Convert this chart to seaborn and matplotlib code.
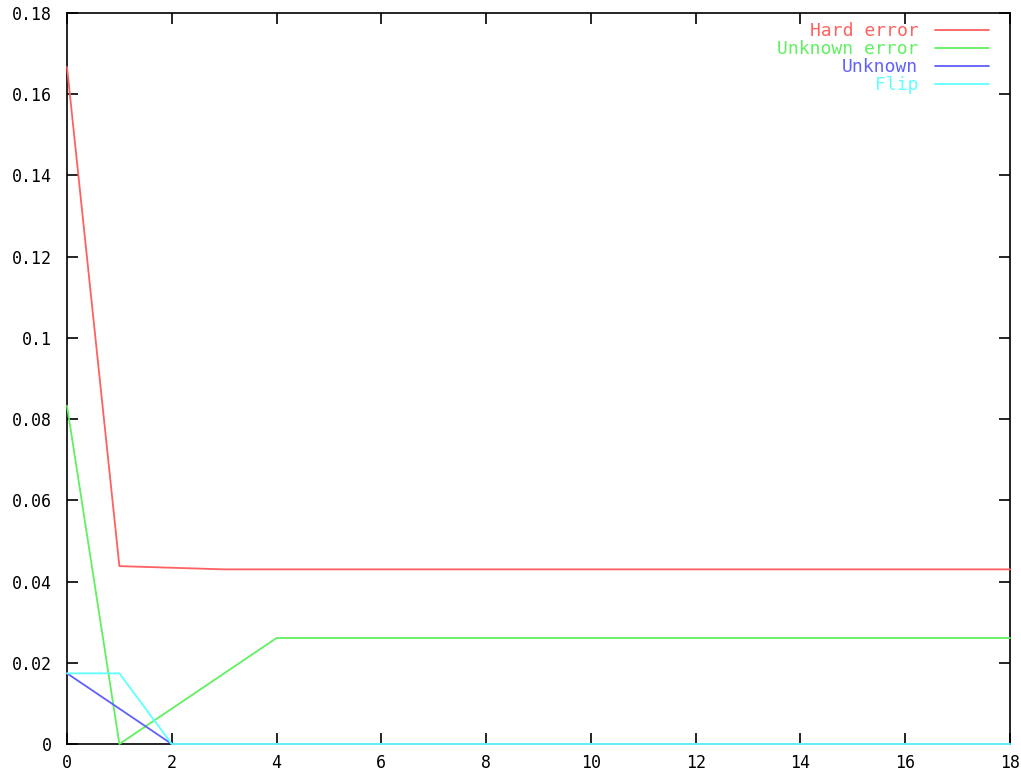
import matplotlib
matplotlib.use('Agg')
import matplotlib.pyplot as plt
import seaborn as sns
import pandas as pd
from matplotlib.ticker import FormatStrFormatter, MultipleLocator

steps = list(range(19))
hard_error = [0.1667, 0.0438, 0.0434, 0.0430, 0.0430, 0.0430, 0.0430, 0.0430, 0.0430, 0.0430,
              0.0430, 0.0430, 0.0430, 0.0430, 0.0430, 0.0430, 0.0430, 0.0430, 0.0430]
unknown_error = [0.0833, 0.0, 0.0087, 0.0174, 0.0261, 0.0261, 0.0261, 0.0261, 0.0261, 0.0261,
                 0.0261, 0.0261, 0.0261, 0.0261, 0.0261, 0.0261, 0.0261, 0.0261, 0.0261]
unknown = [0.0174, 0.0087, 0.0, 0.0, 0.0, 0.0, 0.0, 0.0, 0.0, 0.0,
           0.0, 0.0, 0.0, 0.0, 0.0, 0.0, 0.0, 0.0, 0.0]
flip = [0.0174, 0.0174, 0.0, 0.0, 0.0, 0.0, 0.0, 0.0, 0.0, 0.0,
        0.0, 0.0, 0.0, 0.0, 0.0, 0.0, 0.0, 0.0, 0.0]

series_names = ['Hard error', 'Unknown error', 'Unknown', 'Flip']
colors = ['#ff6060', '#60f060', '#6060ff', '#60ffff']

frames = []
for name, vals in zip(series_names, [hard_error, unknown_error, unknown, flip]):
    frames.append(pd.DataFrame({'step': steps, 'value': vals, 'series': name}))
df = pd.concat(frames, ignore_index=True)

sns.set_style('white')
plt.rcParams['font.family'] = ['DejaVu Sans Mono']

fig = plt.figure(figsize=(10.21, 7.73), dpi=100)
ax = fig.add_axes([67 / 1021, 29 / 773, 943 / 1021, 731 / 773])

sns.lineplot(data=df, x='step', y='value', hue='series', hue_order=series_names,
             palette=colors, linewidth=1.3, ax=ax)

# gnuplot draws the curves on top of the border
for line in ax.get_lines():
    line.set_zorder(5)
    line.set_clip_on(False)

ax.set_xlim(0, 18)
ax.set_ylim(0, 0.18)
ax.xaxis.set_major_locator(MultipleLocator(2))
ax.yaxis.set_major_locator(MultipleLocator(0.02))
ax.yaxis.set_major_formatter(FormatStrFormatter('%g'))
ax.set_xlabel('')
ax.set_ylabel('')
ax.tick_params(direction='in', length=8, width=1.2, colors='black', labelsize=12,
               top=True, right=True, bottom=True, left=True)
ax.tick_params(axis='y', pad=11)
ax.tick_params(axis='x', pad=7)
for s in ax.spines.values():
    s.set_color('black')
    s.set_linewidth(1.2)

leg = ax.legend(loc='upper right', frameon=False, markerfirst=False, handlelength=3.0,
                fontsize=13, labelspacing=0.0, borderaxespad=0.2, borderpad=0.3,
                handletextpad=0.9, bbox_to_anchor=(0.987, 1.0))
for text, c in zip(leg.get_texts(), colors):
    text.set_color(c)
    text.set_ha('right')

fig.savefig('out.png', dpi=100)
